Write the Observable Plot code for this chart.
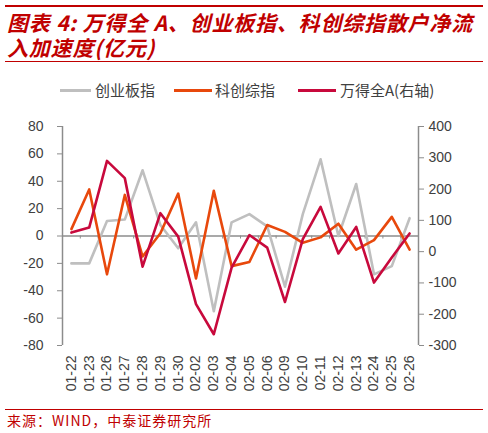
<!DOCTYPE html>
<html><head><meta charset="utf-8">
<script src="https://cdn.jsdelivr.net/npm/d3@7"></script>
<script src="https://cdn.jsdelivr.net/npm/@observablehq/plot@0.6"></script>
<style>
body{margin:0;background:#fff;width:488px;height:433px;overflow:hidden;position:relative;font-family:"Noto Sans CJK SC",sans-serif}
.rl{position:absolute;left:5px;width:478px;background:#C00000}
.title{position:absolute;left:7px;height:25px;font-size:21px;font-weight:bold;font-style:italic;color:#C00000;line-height:25px;white-space:nowrap;letter-spacing:0.8px}
#legend{position:absolute;top:80px;left:0;width:488px;height:20px}
.sw{position:absolute;height:3px;top:9px}
.lt{position:absolute;top:0;font-size:15px;line-height:20px;color:#404040;white-space:nowrap}
#chart{position:absolute;left:0;top:100px}
#src{position:absolute;left:7px;top:411px;font-size:14px;line-height:18px;color:#C00000;white-space:nowrap;letter-spacing:1px}
</style></head>
<body>
<div class="rl" style="top:5px;height:2px"></div>
<div class="title" style="top:10px">图表 4:&nbsp;万得全 A、创业板指、科创综指散户净流</div>
<div class="title" style="top:35px">入加速度(亿元)</div>
<div class="rl" style="top:61px;height:1px"></div>
<div id="legend"></div>
<div id="chart"></div>
<div class="rl" style="top:409px;height:1px"></div>
<div id="src">来源：WIND，中泰证券研究所</div>
<script>
const dates = ["01-22","01-23","01-26","01-27","01-28","01-29","01-30","02-02","02-03","02-04","02-05","02-06","02-09","02-10","02-11","02-12","02-13","02-24","02-25","02-26"];
const gem  = [-20,-20,11,12,48,8,-9,10,-55,10,16,7,-37,16,56,0,38,-28,-22,13];      // 创业板指 (left)
const star = [5,34,-28,30,-15,2,31,-31,33,-22,-19,8,3,-5,-1,9,-10,-3,14,-10];       // 科创综指 (left)
const allA = [61,77,290,235,-48,123,48,-168,-264,-51,53,13,-161,40,143,-6,79,-99,-19,58]; // 万得全A (right)
const seriesNames = ["创业板指","科创综指","万得全A(右轴)"];
const seriesColors = ["#BFBFBF","#E8480C","#C8093C"];
const leftTicks = [-80,-60,-40,-20,0,20,40,60,80];
const rightTicks = [-300,-200,-100,0,100,200,300,400];

// legend
const legendPos = [[60,31,95],[174,38,215],[298,38,340]];
const lg = document.getElementById("legend");
seriesNames.forEach((n,k)=>{
  const s=document.createElement("div");s.className="sw";
  s.style.left=legendPos[k][0]+"px";s.style.width=legendPos[k][1]+"px";s.style.background=seriesColors[k];
  lg.appendChild(s);
  const t=document.createElement("div");t.className="lt";t.style.left=legendPos[k][2]+"px";t.textContent=n;
  lg.appendChild(t);
});

const toL = v => -80 + (v + 300) * 160 / 700;
const fromL = d => Math.round((d + 80) * 700 / 160 - 300);
const rows = dates.map((d,i)=>({x:i+0.5, gem:gem[i], star:star[i], a:toL(allA[i])}));
const axisColor = "#8C8C8C";
const chart = Plot.plot({
  width:488, height:300,
  marginLeft:62, marginRight:70, marginTop:26, marginBottom:55,
  x:{domain:[0,dates.length], label:null},
  y:{domain:[-80,80], label:null},
  style:{fontFamily:"'Liberation Sans', Arial, sans-serif", fontSize:"14px", color:"#404040", background:"transparent"},
  marks:[
    Plot.ruleX([0],{stroke:axisColor, strokeWidth:1.5}),
    Plot.ruleX([dates.length],{stroke:axisColor, strokeWidth:1.5}),
    Plot.ruleY([0],{stroke:axisColor, strokeWidth:1.5}),
    Plot.ruleX(d3.range(1,dates.length),{y1:0,y2:0,insetBottom:-3,stroke:axisColor,strokeWidth:1}),
    Plot.axisY(leftTicks,{anchor:"left", tickSize:5, tickPadding:14, stroke:axisColor, fill:"#404040", tickFormat:d=>String(d), label:null}),
    Plot.axisY(rightTicks.map(toL),{anchor:"right", tickSize:5, tickPadding:5, stroke:axisColor, fill:"#404040", tickFormat:d=>String(fromL(d)), label:null}),
    Plot.axisX(dates.map((d,i)=>i+0.5),{anchor:"bottom", tickSize:0, tickPadding:10, tickRotate:-90, fill:"#404040", tickFormat:d=>dates[Math.floor(d)], label:null}),
    Plot.line(rows,{x:"x", y:"gem", stroke:seriesColors[0], strokeWidth:2.6}),
    Plot.line(rows,{x:"x", y:"star", stroke:seriesColors[1], strokeWidth:2.6}),
    Plot.line(rows,{x:"x", y:"a", stroke:seriesColors[2], strokeWidth:2.6})
  ]
});
document.getElementById("chart").appendChild(chart);
</script>
</body></html>
